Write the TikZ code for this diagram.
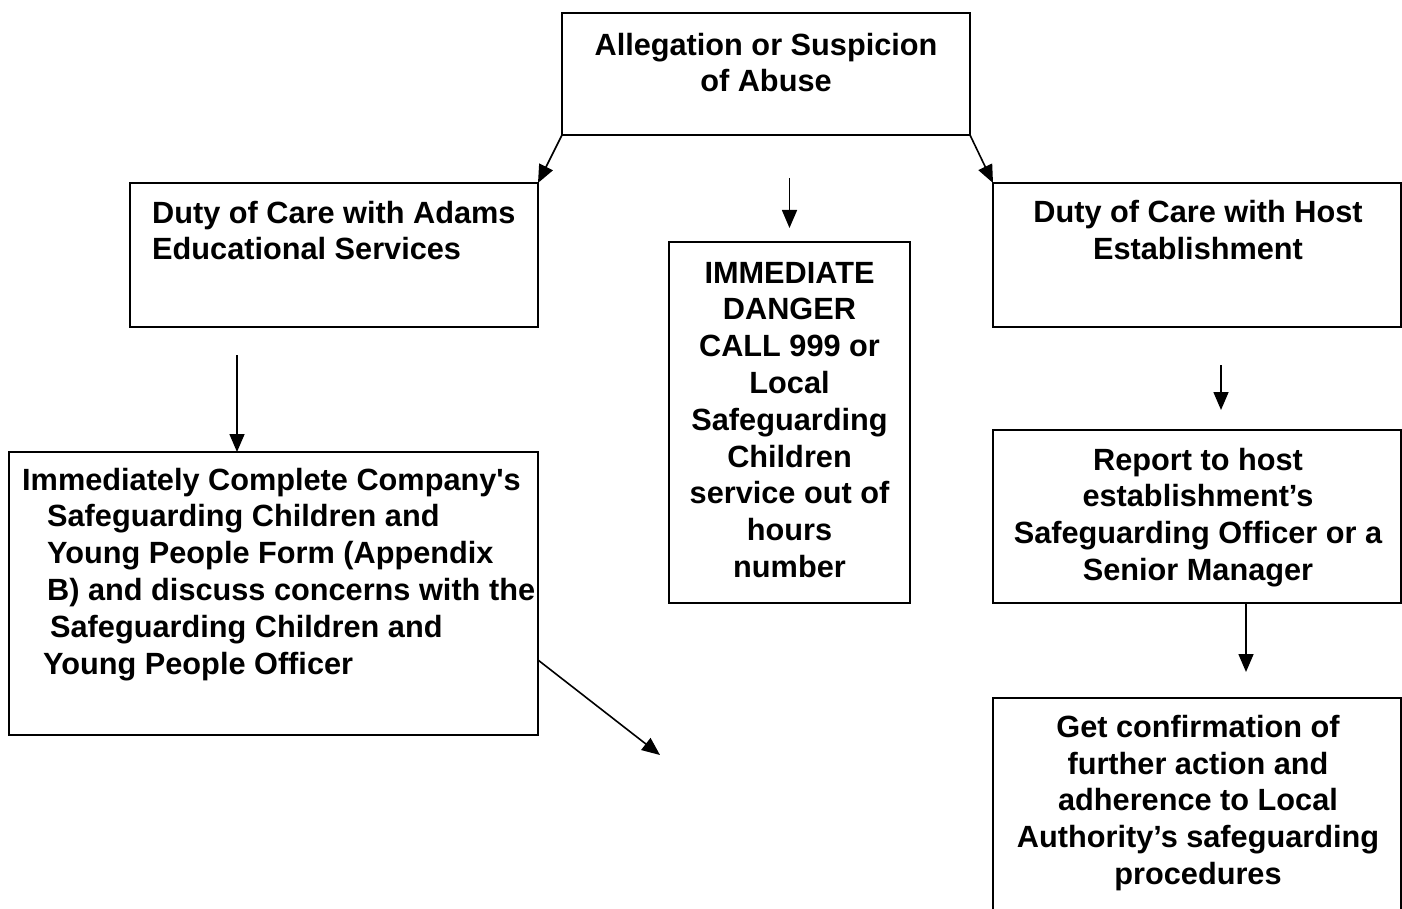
\documentclass[tikz,border=0pt]{standalone}
\usepackage{fontspec}
\setmainfont{Liberation Sans}[Ligatures=TeXOff]
\usetikzlibrary{arrows.meta}
\begin{document}
\begin{tikzpicture}[x=1pt,y=-1pt,
  box/.style={draw,line width=2pt,inner sep=0pt,outer sep=0pt,anchor=north west},
  txt/.style={inner sep=0pt,anchor=base,align=center,font=\bfseries\fontsize{30.7}{36.8}\selectfont},
  txtl/.style={txt,anchor=base west,align=left},
  arr/.style={line width=1.6pt,-{Triangle[length=18pt,width=15pt]}}]
\clip (0,0) rectangle (1402,909);
\fill[white] (0,0) rectangle (1402,909);
% boxes
\node[box,minimum width=408pt,minimum height=122pt] (top) at (562,13) {};
\node[box,minimum width=408pt,minimum height=144pt] (dutyA) at (130,183) {};
\node[box,minimum width=408pt,minimum height=144pt] (dutyH) at (993,183) {};
\node[box,minimum width=241pt,minimum height=361pt] (imm) at (669,242) {};
\node[box,minimum width=529pt,minimum height=283pt] (form) at (9,452) {};
\node[box,minimum width=408pt,minimum height=173pt] (report) at (993,430) {};
\node[box,minimum width=408pt,minimum height=220pt] (confirm) at (993,698) {};
% texts (anchor = baseline of the last line)
\node[txt] (topt) at (766,92) {Allegation or Suspicion\\of Abuse};
\node[txtl] (dutyAt) at (152,260) {Duty of Care with Adams\\Educational Services};
\node[txt] (dutyHt) at (1198,259.5) {Duty of Care with Host\\Establishment};
\node[txt] (immt) at (789.5,577.5) {IMMEDIATE\\DANGER\\CALL 999 or\\Local\\Safeguarding\\Children\\service out of\\hours\\number};
\node[txtl] (formt) at (22,674) {Immediately Complete Company's\\
\hspace*{25pt}Safeguarding Children and\\
\hspace*{25pt}Young People Form (Appendix\\
\hspace*{25pt}B) and discuss concerns with the\\
\hspace*{28pt}Safeguarding Children and\\
\hspace*{21pt}Young People Officer};
\node[txt] (reportt) at (1198,580.5) {Report to host\\establishment’s\\Safeguarding Officer or a\\Senior Manager};
\node[txt] (confirmt) at (1198,884.5) {Get confirmation of\\further action and\\adherence to Local\\Authority’s safeguarding\\procedures};
% free arrow ends
\coordinate (c3s) at (789.5,178);
\coordinate (c3e) at (789.5,228);
\coordinate (c4s) at (237,355);
\coordinate (c5s) at (1221,365);
\coordinate (c5e) at (1221,410);
\coordinate (c6e) at (1246,672);
\coordinate (c7e) at (660,755);
% arrows
\draw[arr] (top.south west) -- (dutyA.north east);
\draw[arr] (top.south east) -- (dutyH.north west);
\draw[arr] (c3s) -- (c3e);
\draw[arr] (c4s) -- (c4s |- form.north);
\draw[arr] (c5s) -- (c5e);
\draw[arr] (c6e |- report.south) -- (c6e);
\draw[arr] ([yshift=-66.5pt]form.east) -- (c7e);
\end{tikzpicture}
\end{document}
